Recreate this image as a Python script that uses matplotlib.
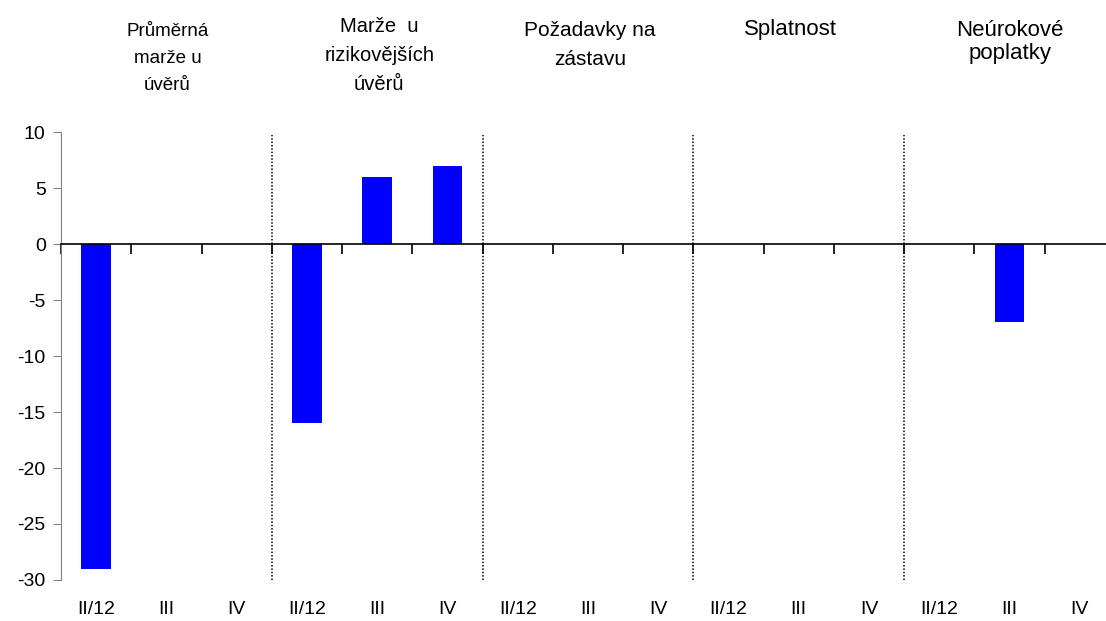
import matplotlib
matplotlib.use("Agg")
import matplotlib.pyplot as plt
import numpy as np

groups = ["Průměrná\nmarže u\núvěrů", "Marže  u\nrizikovějších\núvěrů",
          "Požadavky na\nzástavu", "Splatnost", "Neúrokové\npoplatky"]
periods = ["II/12", "III", "IV"]
values = [-29, 0, 0,
          -16, 6, 7,
          0, 0, 0,
          0, 0, 0,
          0, -7, 0]

plt.rcParams['font.family'] = ['Liberation Sans', 'DejaVu Sans']
plt.rcParams['axes.unicode_minus'] = False

W, H = 1106, 621
fig = plt.figure(figsize=(W / 100, H / 100), dpi=100)
left, right, top, bottom = 61, 1115, 132, 580
ax = fig.add_axes([left / W, 1 - bottom / H, (right - left) / W, (bottom - top) / H])

n = len(values)
x = np.arange(n)
ax.bar(x, values, width=0.42, color="#0000FF", zorder=2)

ax.set_xlim(-0.5, n - 0.5)
ax.set_ylim(-30, 10)
ax.set_yticks(np.arange(-30, 11, 5))
ax.tick_params(axis='y', labelsize=14, length=6, color='#808080', pad=5)

for s in ['top', 'right']:
    ax.spines[s].set_visible(False)
ax.spines['left'].set_color('#808080')
ax.spines['bottom'].set_position(('data', 0))
ax.spines['bottom'].set_color('black')
ax.spines['bottom'].set_linewidth(1.2)

ax.set_xticks(np.arange(n + 1) - 0.5)
ax.set_xticklabels([])
ax.tick_params(axis='x', length=7, direction='out', color='black', width=1.2)

# category labels at bottom
for i in range(n):
    ax.text(i, -0.065, periods[i % 3], transform=ax.get_xaxis_transform(),
            ha='center', va='center', fontsize=14)

# dotted separators
for g in range(1, len(groups)):
    ax.plot([3 * g - 0.5] * 2, [-30, 9.7], color='black', linestyle=(0, (1, 1.2)),
            linewidth=1.1, zorder=1)

# group titles (layout per title: font size, first baseline px, line step px, x offset px)
title_size = [13.5, 14.5, 15, 16, 16]
title_base = [36, 32.5, 36, 35, 36]
title_step = [27, 28.5, 29, 27, 23]
title_dx = [1, 2, 2, -8, 0]
for g, t in enumerate(groups):
    cx = left + (3 * g + 1.5) * (right - left) / n + title_dx[g]
    for k, line in enumerate(t.split("\n")):
        yb = title_base[g] + k * title_step[g]
        fig.text(cx / W, 1 - yb / H, line, ha='center', va='baseline',
                 fontsize=title_size[g])

fig.savefig("out.png", dpi=100)
